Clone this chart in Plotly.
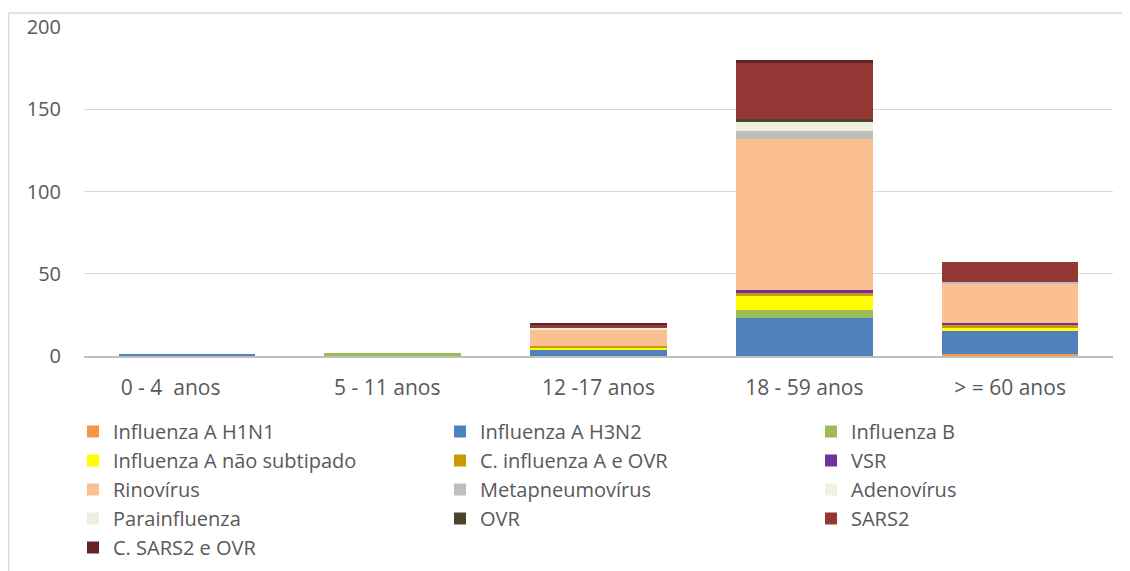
import plotly.graph_objects as go

NB = "\u00a0"
categories = ["0 - 4" + NB * 2 + "anos" + NB * 6, "5 - 11 anos" + NB * 2,
              "12 -17 anos", "18 - 59 anos", "> = 60 anos"]

series_names = [
    "Influenza A H1N1", "Influenza A H3N2", "Influenza B",
    "Influenza A não subtipado", "C. influenza A e OVR", "VSR",
    "Rinovírus", "Metapneumovírus", "Adenovírus",
    "Parainfluenza", "OVR", "SARS2",
    "C. SARS2 e OVR",
]

h1n1 = [0, 0, 0, 0, 1]
h3n2 = [1, 0, 4, 23, 14]
flu_b = [0, 2, 0, 5, 0]
nao_subtipado = [0, 0, 1, 9, 2]
c_influenza_ovr = [0, 0, 1, 1, 2]
vsr = [0, 0, 0, 2, 1]
rinovirus = [0, 0, 10, 92, 24]
metapneumovirus = [0, 0, 0, 5, 1]
adenovirus = [0, 0, 0, 3, 0]
parainfluenza = [0, 0, 1, 2, 0]
ovr = [0, 0, 0, 2, 0]
sars2 = [0, 0, 2, 34, 12]
c_sars2_ovr = [0, 0, 1, 2, 0]

series_values = [h1n1, h3n2, flu_b, nao_subtipado, c_influenza_ovr, vsr,
                 rinovirus, metapneumovirus, adenovirus, parainfluenza, ovr,
                 sars2, c_sars2_ovr]

colors = ["#F79646", "#4F81BD", "#9BBB59", "#FFFF00", "#CC9900", "#7030A0",
          "#FAC090", "#BFBFBF", "#EEF2E3", "#EBF1DE", "#4A452A", "#953735",
          "#632523"]

y_ticks = [0, 50, 100, 150, 200]

FONT = "Open Sans"
TXT = "#595959"

# page has an 8px body margin, so the figure is sized/offset to compensate
W, H = 1122, 563
L, R, T, B = 76, 17, 19, 215
pw, ph = W - L - R, H - T - B

def px_x(p):
    return (p - L) / pw

def px_y(p):
    return (H - B - p) / ph

legend_ids = ["legend", "legend2", "legend3"]
fig = go.Figure()
for i, (name, vals, col) in enumerate(zip(series_names, series_values, colors)):
    fig.add_trace(go.Bar(
        name=name, x=categories, y=vals, marker=dict(color=col, line=dict(width=0)),
        legend=legend_ids[i % 3], legendgroup="g%d" % i,
    ))

col_x = [65, 432, 803]
legend_common = dict(orientation="v", xanchor="left", yanchor="top",
                     font=dict(family=FONT, size=20, color=TXT),
                     bgcolor="rgba(0,0,0,0)", tracegroupgap=0,
                     itemclick=False, itemdoubleclick=False)
legend_layouts = {}
for lid, xc in zip(legend_ids, col_x):
    legend_layouts[lid] = dict(legend_common, x=px_x(xc), y=px_y(404))

fig.update_layout(
    width=W, height=H,
    margin=dict(l=L, r=R, t=T, b=B, pad=0, autoexpand=False),
    barmode="stack", bargap=0.336,
    plot_bgcolor="white", paper_bgcolor="white",
    font=dict(family=FONT, color=TXT),
    showlegend=True,
    xaxis=dict(showgrid=False, showline=True, linecolor="#BFBFBF", linewidth=1.5,
               tickfont=dict(family=FONT, size=21, color=TXT), ticks="",
               ticklabelstandoff=12),
    yaxis=dict(range=[0, 200], tickvals=y_ticks, showgrid=True, gridcolor="#D9D9D9",
               gridwidth=1, zeroline=False, showline=False, ticks="",
               tickfont=dict(family=FONT, size=20, color=TXT), ticklabelstandoff=22),
    shapes=[
        dict(type="line", xref="paper", yref="paper", x0=px_x(0.5), x1=px_x(W),
             y0=px_y(5), y1=px_y(5), line=dict(color="#D9D9D9", width=1.5)),
        dict(type="line", xref="paper", yref="paper", x0=px_x(0.5), x1=px_x(0.5),
             y0=px_y(5), y1=px_y(H), line=dict(color="#D9D9D9", width=1.5)),
    ],
    **legend_layouts,
)

fig.write_html("out.html")
